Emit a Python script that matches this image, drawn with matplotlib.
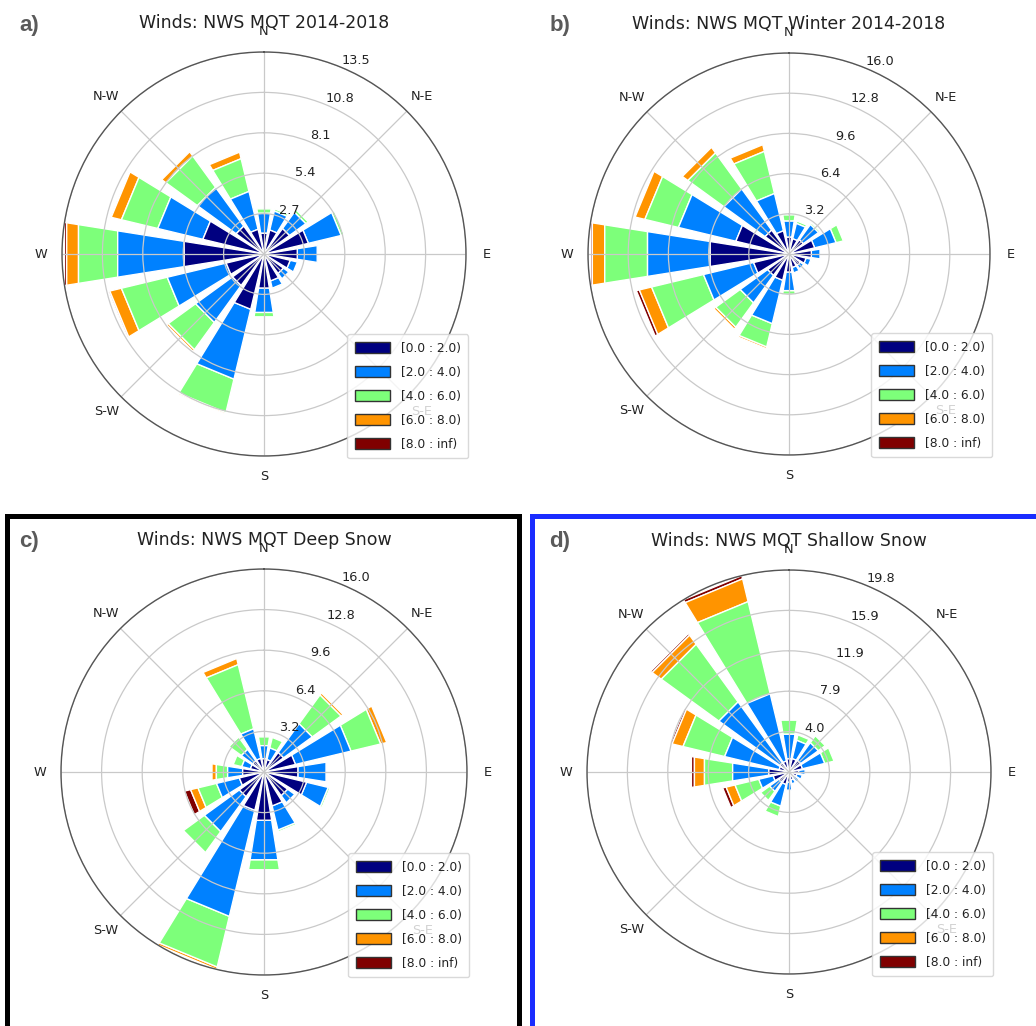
import matplotlib.pyplot as plt
import numpy as np
from matplotlib.patches import Rectangle, Patch

# compass directions of the 16 sectors (deg, clockwise from N): N, NNE, ..., NNW
directions = np.arange(0, 360, 22.5)
theta_labels = ["N", "N-E", "E", "S-E", "S", "S-W", "W", "N-W"]
speed_bins = ["[0.0 : 2.0)", "[2.0 : 4.0)", "[4.0 : 6.0)", "[6.0 : 8.0)", "[8.0 : inf)"]

# frequency (%) per sector; columns = speed bins above
freq_all = [
    [1.40, 1.35, 0.30, 0.00, 0.00],  # N
    [1.65, 1.30, 0.15, 0.00, 0.00],  # NNE
    [2.10, 1.35, 0.20, 0.00, 0.00],  # NE
    [3.05, 2.25, 0.20, 0.00, 0.00],  # ENE
    [2.25, 1.35, 0.00, 0.00, 0.00],  # E
    [1.80, 0.50, 0.00, 0.00, 0.00],  # ESE
    [1.60, 0.45, 0.05, 0.00, 0.00],  # SE
    [1.85, 0.50, 0.10, 0.00, 0.00],  # SSE
    [2.30, 1.65, 0.30, 0.00, 0.00],  # S
    [3.80, 4.80, 2.30, 0.10, 0.00],  # SSW
    [2.60, 3.05, 2.25, 0.15, 0.00],  # SW
    [2.60, 4.05, 3.15, 0.80, 0.10],  # WSW
    [5.40, 4.50, 2.65, 0.80, 0.15],  # W
    [4.20, 3.10, 2.50, 0.70, 0.05],  # WNW
    [2.30, 3.20, 2.60, 0.35, 0.05],  # NW
    [1.70, 2.60, 2.25, 0.45, 0.00],  # NNW
]

freq_winter = [
    [1.35, 1.30, 0.50, 0.00, 0.00],
    [1.25, 1.25, 0.20, 0.00, 0.00],
    [1.40, 1.50, 0.15, 0.00, 0.00],
    [2.10, 1.75, 0.60, 0.00, 0.00],
    [1.80, 0.70, 0.00, 0.00, 0.00],
    [1.40, 0.40, 0.00, 0.00, 0.00],
    [1.10, 0.35, 0.00, 0.00, 0.00],
    [1.10, 0.45, 0.00, 0.00, 0.00],
    [1.45, 1.50, 0.30, 0.00, 0.00],
    [2.15, 3.55, 1.90, 0.15, 0.00],
    [2.10, 2.70, 2.40, 0.20, 0.00],
    [2.90, 4.10, 4.25, 1.00, 0.25],
    [6.35, 5.05, 3.45, 1.00, 0.15],
    [4.35, 4.70, 2.75, 0.80, 0.05],
    [2.35, 4.05, 3.55, 0.55, 0.05],
    [1.90, 3.05, 3.45, 0.55, 0.00],
]

freq_deep = [
    [1.05, 1.05, 0.70, 0.00, 0.00],
    [1.00, 0.95, 0.85, 0.00, 0.00],
    [1.90, 2.80, 2.80, 0.20, 0.00],
    [2.55, 4.50, 2.40, 0.50, 0.00],
    [2.70, 2.25, 0.10, 0.00, 0.00],
    [3.45, 1.75, 0.15, 0.00, 0.00],
    [2.30, 0.70, 0.10, 0.00, 0.00],
    [2.75, 1.95, 0.15, 0.00, 0.00],
    [3.85, 3.15, 0.80, 0.00, 0.00],
    [3.10, 8.60, 4.10, 0.20, 0.00],
    [2.40, 3.40, 2.05, 0.00, 0.00],
    [2.00, 1.85, 1.50, 0.60, 0.50],
    [1.70, 1.20, 0.90, 0.35, 0.05],
    [1.10, 0.70, 0.70, 0.10, 0.00],
    [1.10, 1.10, 1.20, 0.00, 0.00],
    [1.10, 2.40, 5.20, 0.50, 0.00],
]

freq_shallow = [
    [1.30, 2.45, 1.40, 0.00, 0.00],
    [1.35, 1.85, 0.55, 0.00, 0.00],
    [1.40, 2.15, 0.85, 0.00, 0.00],
    [1.35, 2.25, 0.95, 0.00, 0.00],
    [0.95, 0.65, 0.00, 0.00, 0.00],
    [0.80, 0.55, 0.00, 0.00, 0.00],
    [0.60, 0.60, 0.15, 0.00, 0.00],
    [0.80, 0.40, 0.00, 0.00, 0.00],
    [1.00, 0.80, 0.00, 0.00, 0.00],
    [1.25, 2.20, 1.05, 0.00, 0.00],
    [1.20, 1.15, 1.10, 0.00, 0.00],
    [1.60, 1.45, 2.40, 0.90, 0.35],
    [2.00, 3.60, 2.80, 1.00, 0.30],
    [1.00, 5.50, 4.20, 1.10, 0.20],
    [1.10, 7.40, 7.00, 1.10, 0.20],
    [1.10, 6.80, 9.30, 2.30, 0.33],
]

titles = ["Winds: NWS MQT 2014-2018", "Winds: NWS MQT Winter 2014-2018",
          "Winds: NWS MQT Deep Snow", "Winds: NWS MQT Shallow Snow"]
panel_tags = ["a)", "b)", "c)", "d)"]

W, H = 1036, 1026
fig = plt.figure(figsize=(W / 100, H / 100), dpi=100)

colors = plt.cm.jet(np.linspace(0.0, 1.0, len(speed_bins)))

# (center x, center y, radius) in pixels
layout = [(264, 254, 202), (789, 254, 201), (264, 772, 203), (789, 772, 202)]
tag_pos = [(29, 25), (560, 25), (29, 542), (560, 542)]


def windrose(ax, table, title):
    table = np.array(table)
    nsector = len(directions)
    opening = 2 * np.pi / nsector * 0.8
    theta = np.radians(directions)
    for j in range(nsector):
        offset = 0
        for i in range(len(speed_bins)):
            val = table[j, i]
            if val > 0:
                ax.add_patch(Rectangle((theta[j] - opening / 2, offset), opening, val,
                                       facecolor=colors[i], edgecolor='white',
                                       linewidth=1.0, zorder=0.5 - 0.01 * i))
            offset += val
    rmax = table.sum(axis=1).max()
    ax.set_ylim(0, rmax)
    radii = np.linspace(0, rmax, 6)[1:]
    ax.set_rgrids(radii, labels=["%.1f" % r for r in radii], angle=22.5,
                  fontsize=9.3, color='#222222')
    ax.set_thetagrids(np.arange(0, 360, 45), labels=theta_labels,
                      fontsize=9.3, color='#222222')
    ax.tick_params(axis='x', pad=4.5)
    ax.grid(True, color='#c9c9c9', linewidth=0.9)
    ax.spines['polar'].set_color('#555555')
    ax.spines['polar'].set_linewidth(1.0)
    ax.set_title(title, y=1.059, pad=0, fontsize=12.5, color='#222222')
    handles = [Patch(facecolor=c, edgecolor='#333333', linewidth=1.0) for c in colors]
    leg = ax.legend(handles, speed_bins, loc='lower right', bbox_to_anchor=(1.005, -0.005),
                    borderaxespad=0, fontsize=8.8, handlelength=2.85, handleheight=0.95,
                    labelspacing=0.9, handletextpad=0.9, borderpad=0.6,
                    framealpha=0.8, edgecolor='#d0d0d0')
    for t in leg.get_texts():
        t.set_color('#222222')


tables = [freq_all, freq_winter, freq_deep, freq_shallow]
for k in range(4):
    cx, cy, r = layout[k]
    ax = fig.add_axes([(cx - r) / W, 1 - (cy + r) / H, 2 * r / W, 2 * r / H], projection='polar')
    ax.set_theta_zero_location('N')
    ax.set_theta_direction(-1)
    windrose(ax, tables[k], titles[k])
    tx, ty = tag_pos[k]
    fig.text(tx / W, 1 - ty / H, panel_tags[k], fontsize=16, fontweight='bold',
             color='#5a5a5a', ha='center', va='center', family='Liberation Sans')

# highlight frames around panels c and d
fig.patches.append(Rectangle((7 / W, -0.05), (518.5 - 7) / W, 1 - 516.5 / H + 0.05,
                             transform=fig.transFigure, fill=False, edgecolor='black',
                             linewidth=3.6, clip_on=False))
fig.patches.append(Rectangle((532 / W, -0.05), 0.5, 1 - 516.5 / H + 0.05,
                             transform=fig.transFigure, fill=False, edgecolor='#1a2cff',
                             linewidth=3.6, clip_on=False))

fig.savefig('out.png', dpi=100)
